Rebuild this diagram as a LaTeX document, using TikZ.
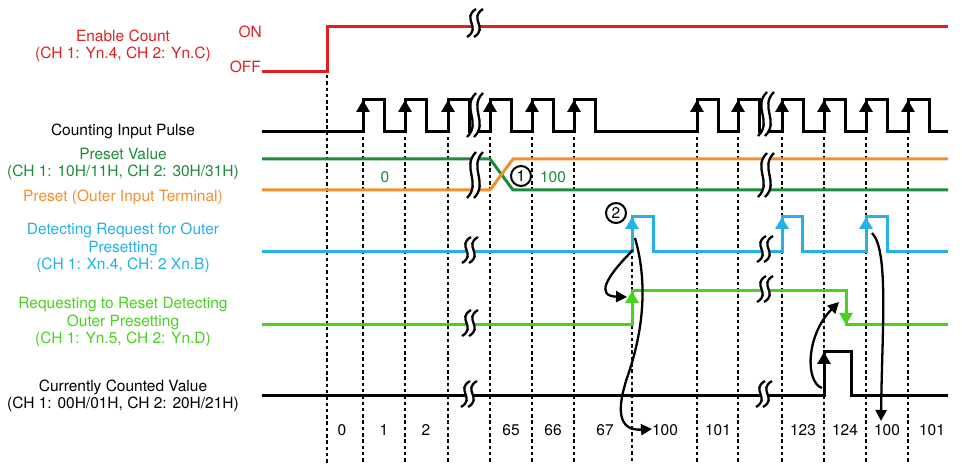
\documentclass[tikz,border=0pt]{standalone}
\usepackage{fontspec}
\setmainfont{TeX Gyre Heros}
\usepackage{tikz}
\usetikzlibrary{arrows.meta,calc}

% wavy break mark: x, y, half height
\newcommand{\brkmark}[3]{%
  \fill[white] (#1+2,#2-#3) .. controls (#1-13,#2-#3/3) and (#1+8,#2+#3/3) .. (#1-7,#2+#3)
    -- (#1+0,#2+#3) .. controls (#1+15,#2+#3/3) and (#1-6,#2-#3/3) .. (#1+9,#2-#3) -- cycle;
  \draw[brk] (#1+2,#2-#3) .. controls (#1-13,#2-#3/3) and (#1+8,#2+#3/3) .. (#1-7,#2+#3);
  \draw[brk] (#1+9,#2-#3) .. controls (#1-6,#2-#3/3) and (#1+15,#2+#3/3) .. (#1+0,#2+#3);
}

\begin{document}
\begin{tikzpicture}[x=1pt,y=-1pt,
  font=\fontsize{15.5}{17.5}\selectfont,
  sig/.style={line width=3pt},
  dashln/.style={line width=2.8pt,dash pattern=on 3.5pt off 2.8pt},
  edge/.style={line width=3pt,-{Triangle[length=12pt,width=13pt]}},
  curv/.style={line width=2.3pt,-{Triangle[length=11pt,width=11pt]}},
  brk/.style={line width=2.3pt},
  numcirc/.style={draw,circle,line width=2pt,minimum size=20pt,inner sep=0pt}]
\definecolor{cR}{RGB}{224,32,32}\definecolor{cG}{RGB}{28,140,58}\definecolor{cO}{RGB}{243,142,44}
\definecolor{cB}{RGB}{35,177,232}\definecolor{cL}{RGB}{72,210,30}
\useasboundingbox (0,0) rectangle (962,470);
% labels
\node[cR,align=center] (lEn) at (123,46) {Enable Count\\(CH 1: Yn.4, CH 2: Yn.C)};
\node[cR,anchor=east,inner sep=0pt] (lOn) at (262,32) {ON};
\node[cR,anchor=east,inner sep=0pt] (lOff) at (261,67) {OFF};
\node (lPul) at (123,131) {Counting Input Pulse};
\node[cG,align=center] (lPre) at (123,164) {Preset Value\\(CH 1: 10H/11H, CH 2: 30H/31H)};
\node[cO] (lOut) at (123,197) {Preset (Outer Input Terminal)};
\node[cB,align=center] (lDet) at (123,248) {Detecting Request for Outer\\Presetting\\(CH 1: Xn.4, CH: 2 Xn.B)};
\node[cL,align=center] (lReq) at (123,322) {Requesting to Reset Detecting\\Outer Presetting\\(CH 1: Yn.5, CH 2: Yn.D)};
\node[align=center] (lCnt) at (123,396) {Currently Counted Value\\(CH 1: 00H/01H, CH 2: 20H/21H)};
% timing grid
\draw[dashln] (327,75) -- (327,463);
\foreach \x in {363,405,448,490,532,574,697,738,782,824,866,908}
  \draw[dashln] (\x,137) -- (\x,463);
\draw[dashln] (632,256) -- (632,463);
% signals
\draw[sig,cR] (262,72) -- (327,72) -- (327,27) -- (948,27);
\draw[sig] (262,132) foreach \x in {363,405,448,490,532,574,697,738,782,824,866,908}
  {-- (\x,132) -- (\x,100) -- ++(21.5,0) -- ++(0,32)} -- (948,132);
\draw[sig,cG] (262,159) -- (490,159) -- (513,190) -- (948,190);
\draw[sig,cO] (262,190) -- (490,190) -- (513,159) -- (948,159);
\draw[sig,cB] (262,252) -- (632,252) -- (632,217) -- (653,217) -- (653,252) -- (782,252) -- (782,217)
  -- (802,217) -- (802,252) -- (866,252) -- (866,217) -- (887,217) -- (887,252) -- (948,252);
\draw[sig,cL] (262,325) -- (632,325) -- (632,291) -- (846,291) -- (846,325) -- (948,325);
\draw[sig] (262,396) -- (824,396) -- (824,352) -- (851,352) -- (851,396) -- (948,396);
% edges
\foreach \x in {363,405,448,490,532,574,697,738,782,824,866,908}
  \draw[edge] (\x,132) -- (\x,100);
\foreach \x in {632,782,866}
  \draw[edge,cB] (\x,252) -- (\x,217);
\draw[edge,cL] (632,325) -- (632,291);
\draw[edge,cL] (846,291) -- (846,325);
\draw[edge] (824,396) -- (824,352);
% breaks
\brkmark{474}{23}{14}
\brkmark{474}{115}{22}
\brkmark{474}{175}{23}
\brkmark{469}{250}{13}
\brkmark{469}{323}{13}
\brkmark{468}{394}{13}
\brkmark{765}{114}{22}
\brkmark{765}{175}{22}
\brkmark{764}{249}{13}
\brkmark{764}{289}{13}
\brkmark{763}{394}{13}
% markers
\node[numcirc] (m1) at (521,176) {1};
\node[numcirc] (m2) at (616,213) {2};
\node[cG] (v0) at (385,177) {0};
\node[cG] (v100) at (553,177) {100};
\foreach \x/\t in {342/0,384/1,426/2,511/65,553/66,605/67,665/100,718/101,803/123,845/124,887/100,932/101}
  \node (n\x) at (\x,430) {\t};
% cause and effect
\coordinate (bA) at (633,250); \coordinate (gA) at (627,297);
\coordinate (bB) at (635,238); \coordinate (cB1) at (652,429);
\coordinate (kC) at (822,388); \coordinate (gC) at (839,302);
\coordinate (bD) at (872,233); \coordinate (cD) at (881,421);
\draw[curv] (bA) .. controls (605,278) and (596,296) .. (gA);
\draw[curv] (bB) .. controls (650,290) and (640,340) .. (628,375) .. controls (616,410) and (618,431) .. (cB1);
\draw[curv] (kC) .. controls (805,382) and (806,335) .. (gC);
\draw[curv] (bD) .. controls (889,250) and (882,330) .. (cD);
\end{tikzpicture}
\end{document}
